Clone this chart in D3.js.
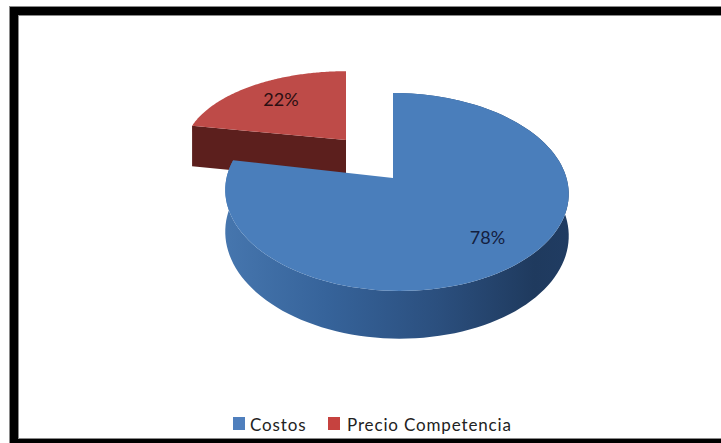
<!DOCTYPE html>
<html>
<head>
<meta charset="utf-8">
<script src="https://cdn.jsdelivr.net/npm/d3@7"></script>
<style>
  html, body { margin: 0; padding: 0; background: #fff; }
  svg { display: block; }
  text { font-family: Lato, "Open Sans", sans-serif; }
</style>
</head>
<body>
<svg id="chart" width="721" height="443"></svg>
<script>
const categories = ["Costos", "Precio Competencia"];
const shares = [78, 22];
const sliceLabels = ["78%", "22%"];
const topColors = ["#4a7ebb", "#be4b48"];
const legendColors = ["#4f7fbd", "#c6423f"];
const labelColors = ["#14203f", "#2b0f12"];

const svg = d3.select("#chart");
const width = 721, height = 443;

// Tilted pie: unit-disc coordinates are projected with a mild perspective.
const apex = { x: 393, y: 178 };
const radiusX = 170, radiusY = 97, perspective = 0.141;

// The smaller slice is pulled out towards the back left of the disc.
const offsets = [
  { shiftX: 0, back: 0, skew: 3.5, squash: 1, thickness: 41 },
  { shiftX: -47, back: 0.415, skew: 0, squash: 0.9, thickness: 44 }
];

function project(angle, radius, slice, drop) {
  const u = Math.sin(angle) * radius;
  const v0 = -Math.cos(angle) * radius;
  const v = v0 - slice.back;
  const s = 1 / (1 - perspective * v);
  const s0 = 1 / (1 + perspective * slice.back);
  const apexY = apex.y - radiusY * slice.back * s0;
  return [
    apex.x + slice.shiftX + radiusX * u * s + slice.skew * (radius + v0),
    apexY + radiusY * slice.squash * (v * s + slice.back * s0) + drop * s
  ];
}

const pie = d3.pie().sort(null).value(d => d);
const arcs = pie(shares);

function rim(d, slice, drop) {
  const n = 120;
  return d3.range(n + 1).map(i => {
    const a = d.startAngle + (d.endAngle - d.startAngle) * i / n;
    return project(a, 1, slice, drop);
  });
}

const line = d3.line();
const defs = svg.append("defs");

// Frame: open on the right, running off the page edge; thin grey edge around the black band.
svg.append("rect").attr("width", width).attr("height", height).attr("fill", "#fff");
[["#8a8a8a", 10], ["#000", 8]].forEach(([color, w]) => {
  svg.append("rect")
    .attr("x", 14).attr("y", 11).attr("width", width + 20).attr("height", 432)
    .attr("fill", "none").attr("stroke", color).attr("stroke-width", w);
});

const wallStops = [
  [0, "#4676ae"], [0.3, "#36639a"], [0.62, "#2b4f7e"], [0.9, "#1f3a5e"], [1, "#203c62"]
];
const wallGrad = defs.append("linearGradient").attr("id", "wallBlue")
  .attr("gradientUnits", "userSpaceOnUse")
  .attr("x1", 224).attr("x2", 569).attr("y1", 0).attr("y2", 0);
wallStops.forEach(s => wallGrad.append("stop").attr("offset", s[0]).attr("stop-color", s[1]));

// Pulled-out slice first, the large slice overlaps its lower edge.
[1, 0].forEach(i => {
  const d = arcs[i], slice = offsets[i];
  const top = rim(d, slice, 0), bottom = rim(d, slice, slice.thickness);
  const centerTop = project(0, 0, slice, 0), centerBottom = project(0, 0, slice, slice.thickness);

  if (i === 0) {
    svg.append("path")
      .attr("d", line(top.concat(bottom.slice().reverse())) + "Z")
      .attr("fill", "url(#wallBlue)");
  } else {
    svg.append("path")
      .attr("d", line([top[0], centerTop, centerBottom, bottom[0]]) + "Z")
      .attr("fill", "#5c1f1d");
  }
  svg.append("path")
    .attr("d", line([centerTop].concat(top)) + "Z")
    .attr("fill", topColors[i]);
});

// Slice labels sit on each slice's middle angle.
const labelRadii = [0.76, 0.68];
sliceLabels.forEach((t, i) => {
  const mid = (arcs[i].startAngle + arcs[i].endAngle) / 2;
  const p = project(mid, labelRadii[i], offsets[i], 0);
  svg.append("text").attr("x", p[0]).attr("y", p[1])
    .attr("text-anchor", "middle").attr("dominant-baseline", "middle")
    .attr("font-size", 18).attr("fill", labelColors[i]).text(t);
});

// Legend
const legendX = d3.scaleOrdinal().domain(categories).range([233, 328]);
categories.forEach((c, i) => {
  const x = legendX(c);
  svg.append("rect").attr("x", x).attr("y", 417).attr("width", 12).attr("height", 13).attr("fill", legendColors[i]);
  svg.append("text").attr("x", x + 17 + (i ? 2 : 0)).attr("y", 431)
    .attr("font-size", 17).attr("letter-spacing", 0.85).attr("fill", "#222").text(c);
});
</script>
</body>
</html>
